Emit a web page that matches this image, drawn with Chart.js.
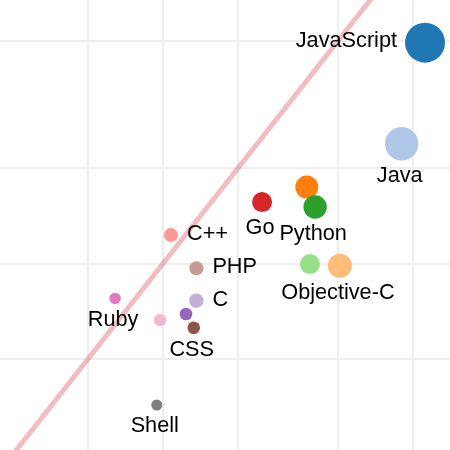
<!DOCTYPE html>
<html>
<head>
<meta charset="utf-8">
<script src="https://cdn.jsdelivr.net/npm/chart.js@4"></script>
<style>
  html, body { margin: 0; padding: 0; background: #fff; }
  #wrap { width: 450px; height: 450px; }
</style>
</head>
<body>
<div id="wrap"><canvas id="c" width="450" height="450"></canvas></div>
<script>
// ---- data ----
const languages = ['JavaScript', 'Java', '', 'Objective-C', 'Python', '', 'Go', 'C++', '', 'C', 'CSS', 'PHP', 'Ruby', '', 'Shell'];
const xValues   = [111.7, 90.1, 37.6, 51.0, 40.6, 38.7, 24.9, 10.76, 12.36, 13.6, 13.27, 13.6, 6.43, 9.73, 9.44];
const yValues   = [49.5, 23.8, 17.4, 9.84, 15.06, 9.96, 15.6, 12.3, 6.94, 7.64, 6.28, 9.66, 7.77, 6.64, 3.59];
const sizes     = [20, 16.7, 11.5, 12, 11.7, 10, 10, 7, 6.3, 7.2, 6.3, 7, 5.7, 6.2, 5.5];
const labelSide = ['left', 'below', '', 'below', 'below', '', 'below', 'right', '', 'right', 'below', 'right', 'below', '', 'below'];
const xTicks = [5, 10, 20, 50, 100];
const yTicks = [5, 10, 20, 50];
const diagonal = [1, 200]; // y = x reference line endpoints (data units)

const palette = ['#1f77b4','#aec7e8','#ff7f0e','#ffbb78','#2ca02c','#98df8a','#d62728','#ff9896',
                 '#9467bd','#c5b0d5','#8c564b','#c49c94','#e377c2','#f7b6d2','#7f7f7f'];

const bubbleData = xValues.map((x, i) => ({ x: x, y: yValues[i], r: sizes[i] }));

const labelPlugin = {
  id: 'bubbleLabels',
  afterDatasetsDraw(chart) {
    const meta = chart.getDatasetMeta(1);
    const ctx = chart.ctx;
    ctx.save();
    ctx.font = '21.7px "Liberation Sans", Arial, sans-serif';
    ctx.fillStyle = '#000';
    ctx.textBaseline = 'alphabetic';
    meta.data.forEach((el, i) => {
      const name = languages[i];
      const side = labelSide[i];
      if (!name || !side) return;
      const r = sizes[i];
      if (side === 'below') {
        ctx.textAlign = 'center';
        ctx.fillText(name, el.x - 2, el.y + r + 21.5);
      } else if (side === 'right') {
        ctx.textAlign = 'left';
        ctx.fillText(name, el.x + r + 9, el.y + 5);
      } else if (side === 'left') {
        ctx.textAlign = 'right';
        ctx.fillText(name, el.x - r - 8, el.y + 4.5);
      }
    });
    ctx.restore();
  }
};

const gridOpts = { color: '#eeeeee', lineWidth: 2, drawTicks: false };

new Chart(document.getElementById('c'), {
  type: 'bubble',
  data: {
    datasets: [
      {
        type: 'line',
        data: diagonal.map(v => ({ x: v, y: v })),
        borderColor: 'rgba(204,40,50,0.3)',
        borderWidth: 5,
        pointRadius: 0,
        fill: false,
        order: 2
      },
      {
        type: 'bubble',
        data: bubbleData,
        backgroundColor: palette,
        borderWidth: 0,
        hoverBorderWidth: 0,
        order: 1
      }
    ]
  },
  options: {
    responsive: false,
    animation: false,
    events: [],
    layout: { padding: 0, autoPadding: false },
    plugins: { legend: { display: false }, tooltip: { enabled: false } },
    scales: {
      x: {
        type: 'logarithmic',
        min: 2.228, max: 140.6,
        grid: gridOpts,
        border: { display: false },
        ticks: { display: false },
        afterBuildTicks: s => { s.ticks = xTicks.map(v => ({ value: v })); }
      },
      y: {
        type: 'logarithmic',
        min: 2.592, max: 67.4,
        grid: gridOpts,
        border: { display: false },
        ticks: { display: false },
        afterBuildTicks: s => { s.ticks = yTicks.map(v => ({ value: v })); }
      }
    }
  },
  plugins: [labelPlugin]
});
</script>
</body>
</html>
